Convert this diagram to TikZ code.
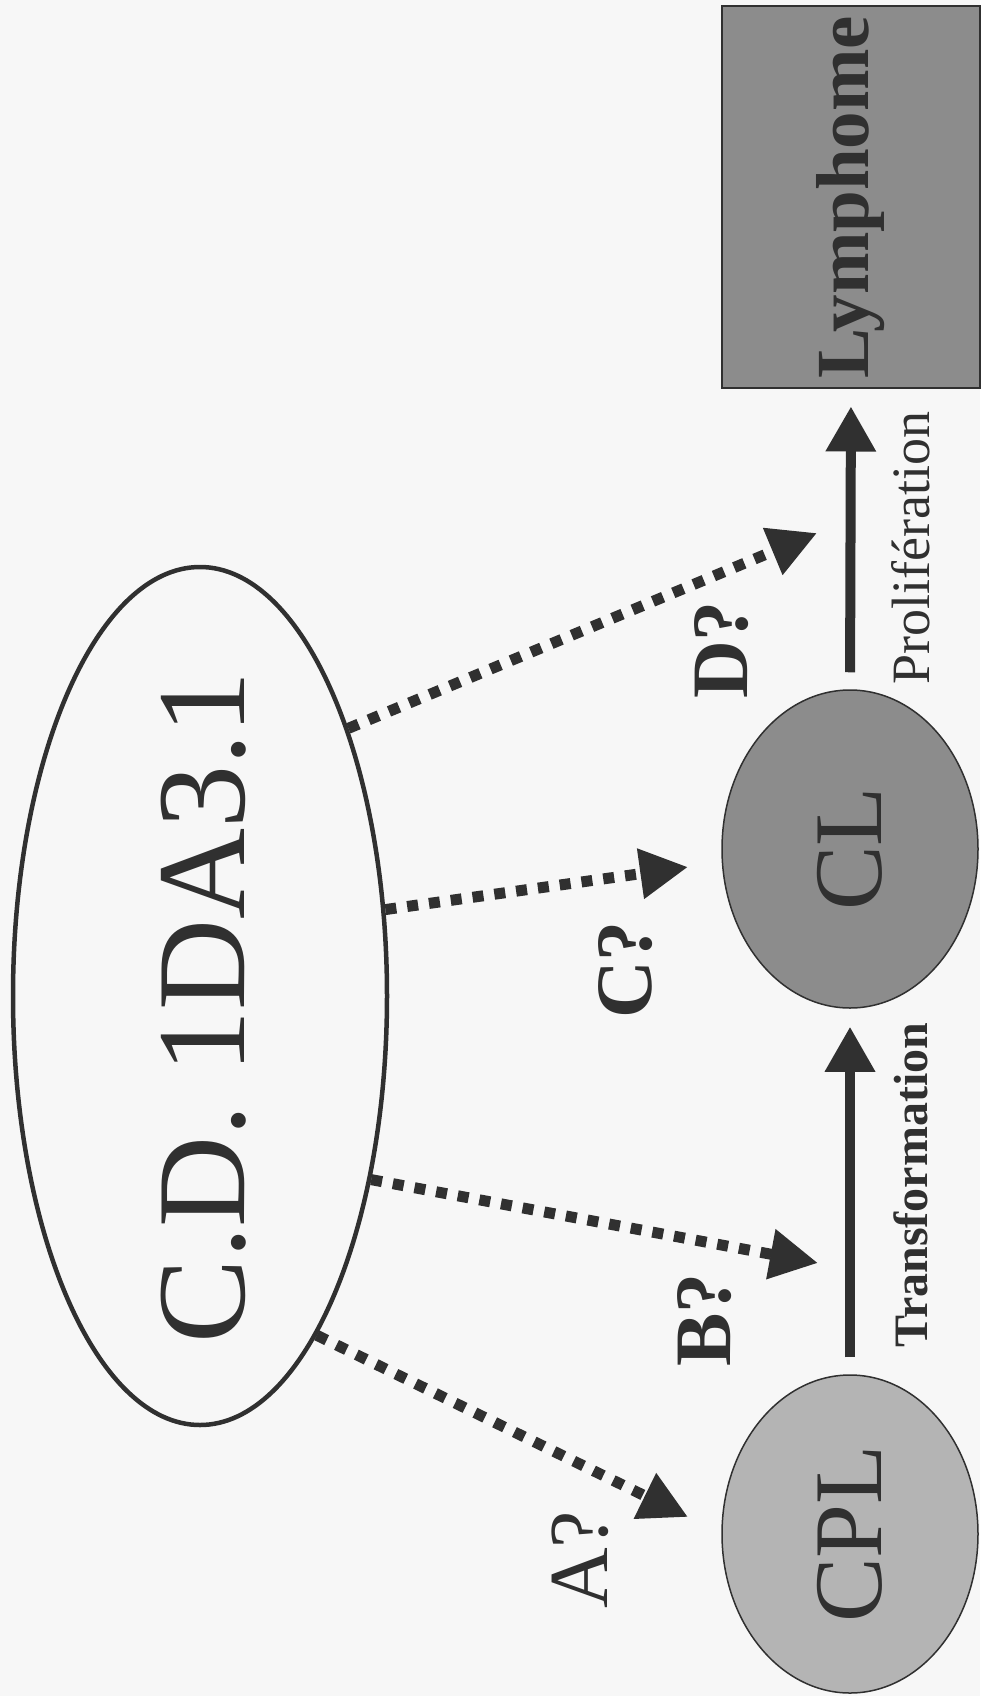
\documentclass[tikz,border=0pt]{standalone}
\usepackage{fontspec}
\setmainfont{Liberation Serif}
\usepackage{tikz}
\usetikzlibrary{positioning}
\usetikzlibrary{arrows.meta}
\usetikzlibrary{shapes.geometric}
\definecolor{ink}{HTML}{303030}
\definecolor{paper}{HTML}{F7F7F7}
\definecolor{cplgray}{HTML}{B4B4B4}
\definecolor{clgray}{HTML}{8C8C8C}

\begin{document}
\begin{tikzpicture}[x=1pt, y=-1pt,
bigoval/.style={ellipse, draw=ink, line width=4.5pt, minimum width=374pt, minimum height=858pt, inner sep=0pt},
cellnode1/.style={ellipse, draw=ink, fill=cplgray, line width=1.5pt, rotate=90, minimum width=318pt, minimum height=256pt, inner sep=0pt, text=ink, font=\fontsize{97}{100}\selectfont},
cellnode2/.style={ellipse, draw=ink, fill=clgray, line width=1.5pt, rotate=90, minimum width=318pt, minimum height=256pt, inner sep=0pt, text=ink, font=\fontsize{97}{100}\selectfont},
boxnode/.style={rectangle, draw=ink, fill=clgray, line width=2pt, rotate=90, minimum width=381pt, minimum height=258pt, inner sep=0pt, text=ink, font=\bfseries\fontsize{75}{78}\selectfont},
asklabel/.style={rotate=90, text=ink, font=\bfseries\fontsize{80}{84}\selectfont},
steplabel/.style={rotate=90, text=ink, font=\fontsize{54}{56}\selectfont},
maybe/.style={draw=ink, line width=11pt, dash pattern=on 11pt off 11pt, -{Triangle[length=48pt, width=48pt]}},
sure/.style={draw=ink, line width=10pt, -{Triangle[length=45pt, width=48pt]}, shorten <=17pt, shorten >=18pt},
]
\fill[paper] (0,0) rectangle (980,1696);
%Nodes
\node[bigoval]                     (cd)     at (200,996)  {};
\node[rotate=90, text=ink, font=\fontsize{126}{130}\selectfont] (cdname) at (204,1007) {C.D. 1DA3.1};
\node[cellnode1]                   (cpl)    at (850,1534) {CPL};
\node[cellnode2]                   (cl)     at (850,849)  {CL};
\node[boxnode]                     (lym)    at (851,197)  {Lymphome};

\node[asklabel, font=\fontsize{84}{88}\selectfont] (qa) at (580,1560) {A?};
\node[asklabel]                    (qb)     at (705,1320) {B?};
\node[asklabel]                    (qc)     at (626,970)  {C?};
\node[asklabel]                    (qd)     at (722,650)  {D?};

\node[steplabel, font=\bfseries\fontsize{48}{50}\selectfont] (trans) at (911,1185) {Transformation};
\node[steplabel]                   (prolif) at (911,548)  {Prolifération};

\coordinate (tipa) at (688,1517);
\coordinate (tipb) at (818,1263);
\coordinate (tipc) at (688,867);
\coordinate (tipd) at (817,533);

%Lines
\draw[sure] (cpl.east) -- (cl.west);
\draw[sure] (cl.east) -- (lym.west);
\draw[maybe] (cd.-71) -- (tipa);
\draw[maybe] (cd.-47) -- (tipb);
\draw[maybe] (cd.25) -- (tipc);
\draw[maybe] (cd.61) -- (tipd);
\end{tikzpicture}
\end{document}
